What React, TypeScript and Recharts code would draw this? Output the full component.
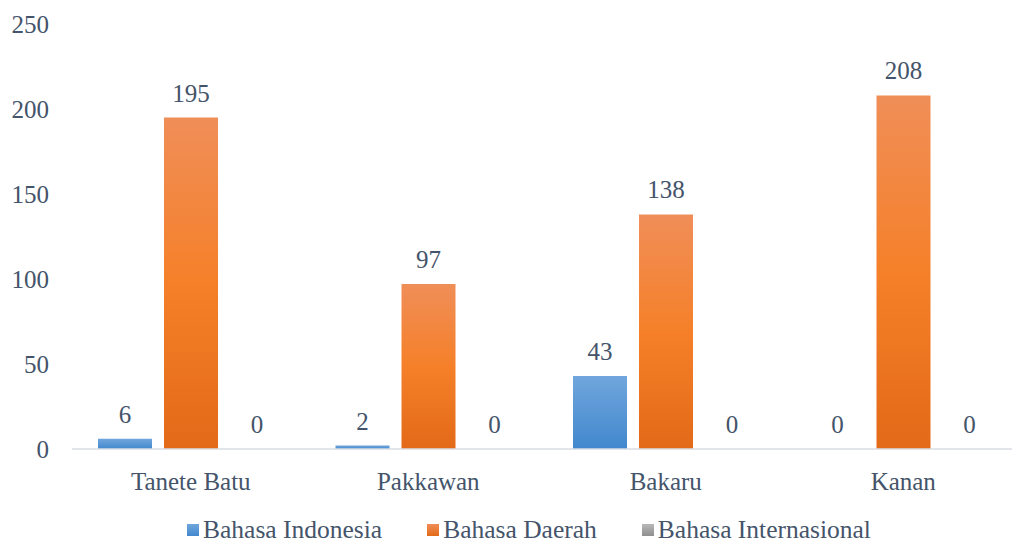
import React from 'react';
import { BarChart, Bar, XAxis, YAxis, Legend, LabelList } from 'recharts';

const categories = ['Tanete Batu', 'Pakkawan', 'Bakaru', 'Kanan'];
const bahasaIndonesia = [6, 2, 43, 0];
const bahasaDaerah = [195, 97, 138, 208];
const bahasaInternasional = [0, 0, 0, 0];
const yTicks = [0, 50, 100, 150, 200, 250];

const seriesNames = ['Bahasa Indonesia', 'Bahasa Daerah', 'Bahasa Internasional'];
const seriesKeys = ['indo', 'daerah', 'intl'];
const gradIds = ['gBlue', 'gOrange', 'gGray'];

const data = categories.map((c, i) => ({
  name: c,
  indo: bahasaIndonesia[i],
  daerah: bahasaDaerah[i],
  intl: bahasaInternasional[i],
}));

const FONT = '"Liberation Serif", "DejaVu Serif", serif';
const TEXT = '#44546a';
const FS = 25;

const legendColors = [
  ['#70a6dc', '#4288ce'],
  ['#f08e58', '#e36a18'],
  ['#b8b8b8', '#8f8f8f'],
];

const renderLegend = () => (
  <div
    style={{
      display: 'flex',
      justifyContent: 'center',
      alignItems: 'center',
      height: 28,
      paddingLeft: 36,
      fontFamily: FONT,
      fontSize: 25.5,
      lineHeight: '28px',
      color: TEXT,
    }}
  >
    {seriesNames.map((n, i) => (
      <div key={n} style={{ display: 'flex', alignItems: 'center', marginRight: i < 2 ? 45 : 0 }}>
        <div
          style={{
            width: 12,
            height: 12,
            marginRight: 4,
            background: `linear-gradient(${legendColors[i][0]}, ${legendColors[i][1]})`,
          }}
        />
        <span>{n}</span>
      </div>
    ))}
  </div>
);

export default function App() {
  return (
    <div
      style={{
        position: 'absolute',
        left: 0,
        top: 0,
        width: 1012,
        height: 546,
        overflow: 'hidden',
        background: '#fff',
      }}
    >
      <BarChart
        width={1040}
        height={546}
        data={data}
        margin={{ top: 24, right: 18, left: 0, bottom: 2 }}
        barSize={54}
        barGap={12}
      >
        <defs>
          <linearGradient id="gBlue" x1="0" y1="0" x2="0" y2="1">
            <stop offset="0%" stopColor="#70a6dc" />
            <stop offset="100%" stopColor="#4288ce" />
          </linearGradient>
          <linearGradient id="gOrange" x1="0" y1="0" x2="0" y2="1">
            <stop offset="0%" stopColor="#f08e58" />
            <stop offset="50%" stopColor="#f58029" />
            <stop offset="100%" stopColor="#e36a18" />
          </linearGradient>
          <linearGradient id="gGray" x1="0" y1="0" x2="0" y2="1">
            <stop offset="0%" stopColor="#b8b8b8" />
            <stop offset="100%" stopColor="#8f8f8f" />
          </linearGradient>
        </defs>
        <XAxis
          dataKey="name"
          height={67}
          tickLine={false}
          tickSize={6}
          tickMargin={17}
          axisLine={{ stroke: '#d9dde3', strokeWidth: 1.5 }}
          tick={{ fill: TEXT, fontFamily: FONT, fontSize: FS }}
        />
        <YAxis
          width={72}
          domain={[0, 250]}
          ticks={yTicks}
          axisLine={false}
          tickLine={false}
          tickSize={6}
          tickMargin={17}
          tick={{ fill: TEXT, fontFamily: FONT, fontSize: FS }}
        />
        <Legend verticalAlign="bottom" content={renderLegend} height={28} />
        {seriesKeys.map((k, i) => (
          <Bar
            key={k}
            dataKey={k}
            name={seriesNames[i]}
            fill={`url(#${gradIds[i]})`}
            minPointSize={0.01}
            isAnimationActive={false}
          >
            <LabelList
              dataKey={k}
              position="top"
              offset={16}
              style={{ fill: TEXT, fontFamily: FONT, fontSize: FS }}
            />
          </Bar>
        ))}
      </BarChart>
    </div>
  );
}
